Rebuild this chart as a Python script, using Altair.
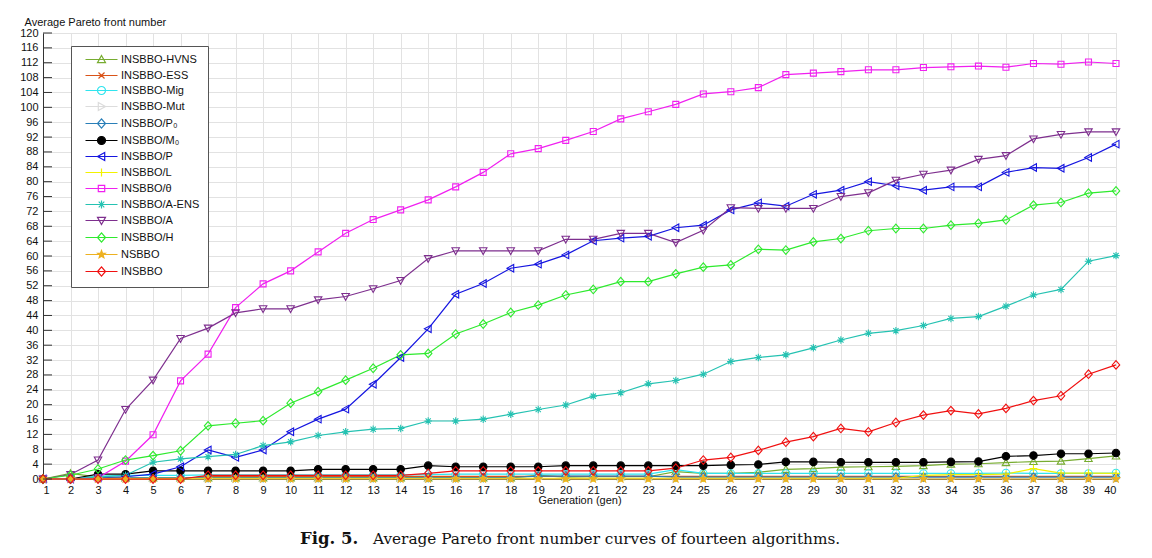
import math
import altair as alt
import pandas as pd

gens = list(range(1, 41))

names = ["INSBBO-HVNS", "INSBBO-ESS", "INSBBO-Mig", "INSBBO-Mut", "INSBBO/P₀",
         "INSBBO/M₀", "INSBBO/P", "INSBBO/L", "INSBBO/θ", "INSBBO/A-ENS",
         "INSBBO/A", "INSBBO/H", "NSBBO", "INSBBO"]

hvns = [0, 1.5, 0.5] + [0.3] * 15 + [1.0, 0.5, 0.6, 0.6, 0.6, 2.0, 1.5, 1.5, 1.8, 2.6, 2.8, 3.2,
                                     3.3, 3.4, 3.6, 4.0, 4.1, 4.4, 4.7, 4.8, 5.5, 6.2]
ess = [0] * 6 + [0.7] * 34
mig = [0, 0, 0.8, 1, 1, 1, 1.1, 1.1, 1.1, 1.1, 1.1, 1.1, 1.1, 1.1, 1.2, 1.3, 1.3, 1.3, 1.3, 1.3,
       1.3, 1.3, 1.3, 2.5, 1.5, 1.5, 1.5, 1.5, 1.5, 1.5, 1.5, 1.5, 1.5, 1.5, 1.5, 1.6, 1.5, 1.5,
       1.5, 1.6]
mut = [0, 0] + [0.1] * 38
p0 = [0, 0, 0.2] + [0.4] * 15 + [0.8] * 5 + [0.5] * 17
m0 = [0, 0, 1.3, 1.3, 2.2, 2.2, 2.2, 2.2, 2.2, 2.2, 2.6, 2.6, 2.6, 2.6, 3.6, 3.3, 3.3, 3.3, 3.3,
      3.6, 3.6, 3.6, 3.6, 3.6, 3.6, 3.8, 3.9, 4.6, 4.6, 4.5, 4.5, 4.5, 4.5, 4.6, 4.7, 6.1, 6.3,
      6.8, 6.8, 7.0]
pp = [0, 0, 0.3, 0.6, 1.3, 3.3, 7.8, 5.8, 7.8, 12.7, 16.1, 18.8, 25.5, 32.7, 40.4, 49.7, 52.6,
      56.7, 57.8, 60.3, 64.1, 64.8, 65.3, 67.6, 68.3, 72.4, 74.3, 73.4, 76.6, 77.7, 80, 78.9, 77.7,
      78.6, 78.6, 82.5, 83.8, 83.6, 86.5, 90.1]
ll = [0, 0] + [0.2] * 30 + [1.0, 1.2, 1.2, 1.3, 2.8, 1.6, 1.6, 1.5]
theta = [0, 0, 0.3, 4.8, 11.9, 26.4, 33.6, 46.1, 52.5, 56, 61.1, 66.1, 69.8, 72.4, 75.1, 78.6,
         82.5, 87.5, 88.9, 91.1, 93.5, 96.9, 98.8, 100.8, 103.6, 104.2, 105.3, 108.8, 109.2,
         109.6, 110.1, 110.1, 110.7, 110.9, 111.1, 110.8, 111.8, 111.6, 112.2, 111.8]
aens = [0, 0, 0.5, 1, 4.5, 5.4, 6, 6.6, 9, 10, 11.7, 12.7, 13.4, 13.6, 15.6, 15.6, 16.1, 17.4,
        18.7, 19.9, 22.3, 23.2, 25.6, 26.5, 28.2, 31.6, 32.7, 33.4, 35.3, 37.4, 39.2, 39.9, 41.3,
        43.2, 43.7, 46.5, 49.5, 51, 58.6, 60.1]
aa = [0, 1.2, 5.1, 18.7, 26.6, 37.8, 40.6, 44.7, 45.8, 45.8, 48.2, 49.1, 51.2, 53.4, 59.3, 61.4,
      61.4, 61.4, 61.4, 64.5, 64.5, 66.1, 66.1, 63.6, 66.9, 73, 72.8, 72.8, 72.8, 76, 77, 80.4, 82,
      83.1, 86, 87, 91.5, 92.7, 93.4, 93.4]
hh = [0, 1, 2.7, 5.1, 6.3, 7.6, 14.3, 15, 15.7, 20.4, 23.5, 26.6, 29.8, 33.4, 33.8, 39, 41.7,
      44.8, 46.8, 49.5, 51, 53.1, 53.1, 55.2, 57, 57.6, 61.8, 61.6, 63.8, 64.7, 66.8, 67.4, 67.4,
      68.3, 68.8, 69.7, 73.7, 74.4, 76.9, 77.5]
nsbbo = [0] * 40
insbbo = [0] * 6 + [1] * 8 + [1.5] + [2.2] * 8 + [2.9, 5.1, 5.8, 7.7, 9.9, 11.4, 13.6, 12.7, 15.2,
                                                17.2, 18.4, 17.5, 19, 21.1, 22.4, 28.2, 30.7]

series_values = [hvns, ess, mig, mut, p0, m0, pp, ll, theta, aens, aa, hh, nsbbo, insbbo]

y_ticks = list(range(0, 121, 4))

caption_bold = "Fig. 5."
caption_rest = "Average Pareto front number curves of fourteen algorithms."

colors = ["#77AC30", "#D95319", "#30E4EE", "#DCDCDC", "#2A7FB8", "#000000", "#1515E0",
          "#F2F200", "#F020F0", "#25C2B2", "#7E2F8E", "#2EEA2E", "#EDB120", "#F01010"]
fills = ["transparent"] * 5 + ["#000000"] + ["transparent"] * 6 + ["#EDB120", "transparent"]


def star_path(ro=1.0, ri=0.42):
    pts = []
    for k in range(10):
        r = ro if k % 2 == 0 else ri
        a = -math.pi / 2 + k * math.pi / 5
        pts.append(f"{r * math.cos(a):.3f},{r * math.sin(a):.3f}")
    return "M" + "L".join(pts) + "Z"


tri_up = "M0,-1L1,0.8L-1,0.8Z"
xmark = "M-0.75,-0.75L0.75,0.75M-0.75,0.75L0.75,-0.75"
circ = "M-1,0A1,1 0 1,1 1,0A1,1 0 1,1 -1,0Z"
tri_right = "M1,0L-0.8,-1L-0.8,1Z"
diam = "M0,-1.15L1,0L0,1.15L-1,0Z"
tri_left = "M-1,0L0.8,-1L0.8,1Z"
plus = "M-1,0H1M0,-1V1"
sq = "M-0.8,-0.8H0.8V0.8H-0.8Z"
aster = "M-1,0H1M0,-1V1M-0.7,-0.7L0.7,0.7M-0.7,0.7L0.7,-0.7"
tri_down = "M0,1L1,-0.8L-1,-0.8Z"
star = star_path()

shapes = [tri_up, xmark, circ, tri_right, diam, circ, tri_left, plus, sq, aster, tri_down,
          diam, star, diam]
legend_shapes = ["M-4,0H4" + s for s in shapes]

rows = []
for nm, vals in zip(names, series_values):
    for g, v in zip(gens, vals):
        rows.append({"series": nm, "gen": g, "value": v})
df = pd.DataFrame(rows)

FONT = "Liberation Sans"

xenc = alt.X("gen:Q", scale=alt.Scale(domain=[1, 40], nice=False),
             axis=alt.Axis(values=gens, title="Generation (gen)", grid=True, ticks=False,
                           labelPadding=5, titlePadding=-1, titleFontWeight="normal",
                           titleFontSize=11, labelFontSize=11, labelFont=FONT, titleFont=FONT,
                           labelOverlap=False, gridColor="#E2E2E2", domainColor="#333333",
                           labelColor="#111111", titleColor="#111111"))
yenc = alt.Y("value:Q", scale=alt.Scale(domain=[0, 120], nice=False),
             axis=alt.Axis(values=y_ticks, title="Average Pareto front number", grid=True,
                           ticks=False, labelPadding=5, titleAngle=0, titleAlign="left",
                           titleBaseline="middle", titleX=-19, titleY=-11, labelOverlap=False,
                           labelFlush=False,
                           titleFontWeight="normal", titleFontSize=11, labelFontSize=11,
                           labelFont=FONT, titleFont=FONT, gridColor="#E2E2E2",
                           domainColor="#333333", labelColor="#111111", titleColor="#111111"))

stroke_scale = alt.Scale(domain=names, range=colors)
fill_scale = alt.Scale(domain=names, range=fills)

lines = alt.Chart(df).mark_line(strokeWidth=1.2).encode(
    x=xenc, y=yenc,
    stroke=alt.Stroke("series:N", scale=stroke_scale, legend=None),
    order="gen:Q",
)

points = alt.Chart(df).mark_point(size=56, strokeWidth=1.1, opacity=1).encode(
    x=xenc, y=yenc,
    stroke=alt.Stroke("series:N", scale=stroke_scale, legend=None),
    fill=alt.Fill("series:N", scale=fill_scale, legend=None),
    shape=alt.Shape("series:N", scale=alt.Scale(domain=names, range=shapes), legend=None),
)

leg = alt.Legend(title=None, orient="none", legendX=28, legendY=13, symbolSize=64,
                 symbolStrokeWidth=1.2, symbolOffset=17, labelOffset=14, padding=8,
                 rowPadding=3.0, labelFont=FONT, labelFontSize=11, labelColor="#111111",
                 strokeColor="#555555", fillColor="#FFFFFF", labelLimit=250)

legend_layer = alt.Chart(pd.DataFrame({"series": pd.Series([], dtype="object")})).mark_point(
    opacity=1).encode(
    stroke=alt.Stroke("series:N", scale=stroke_scale, legend=leg),
    fill=alt.Fill("series:N", scale=fill_scale, legend=leg),
    shape=alt.Shape("series:N", scale=alt.Scale(domain=names, range=legend_shapes), legend=leg),
)

ticks_layer = alt.Chart(pd.DataFrame({"value": y_ticks})).mark_rule(color="#333333").encode(
    y=yenc,
    x=alt.value(0), x2=alt.value(9),
)

cap_bold = alt.Chart(pd.DataFrame({"t": [caption_bold]})).mark_text(
    font="DejaVu Serif", fontSize=16.5, fontWeight="bold", align="left", baseline="middle",
    color="#111111").encode(text="t:N", x=alt.value(257), y=alt.value(506))
cap_text = alt.Chart(pd.DataFrame({"t": [caption_rest]})).mark_text(
    font="DejaVu Serif", fontSize=15.3, align="left", baseline="middle",
    color="#111111").encode(text="t:N", x=alt.value(330), y=alt.value(506))

chart = alt.layer(lines, points, ticks_layer, legend_layer, cap_bold, cap_text).resolve_scale(
    stroke="independent", fill="independent", shape="independent"
).properties(
    width=1073, height=446,
    autosize=alt.AutoSizeParams(type="none"),
    padding={"left": 35, "top": 25, "right": 20, "bottom": 71},
).configure_view(stroke=None).configure(background="white")

chart.save("out.html", embed_options={"renderer": "svg", "actions": False})
